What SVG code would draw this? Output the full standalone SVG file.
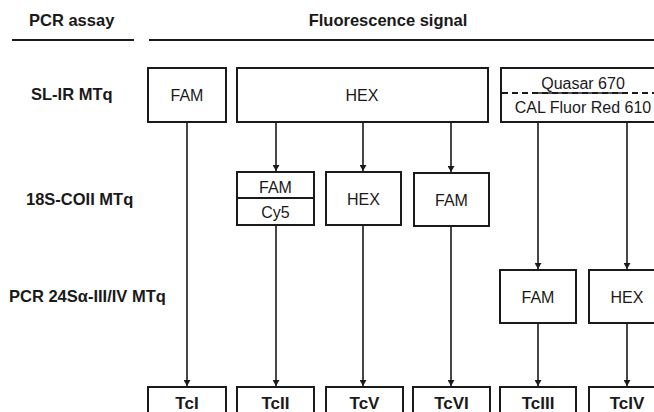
<svg xmlns="http://www.w3.org/2000/svg" width="654" height="412" viewBox="0 0 654 412">
<style>
.bx{fill:#fff;stroke:#1a1a1a;stroke-width:2}
.t{font-family:"Liberation Sans",Arial,sans-serif;font-size:16px;fill:#1a1a1a;text-anchor:middle}
.b{font-family:"Liberation Sans",Arial,sans-serif;font-size:16.5px;font-weight:bold;fill:#1a1a1a}
.tc{font-family:"Liberation Sans",Arial,sans-serif;font-size:17px;font-weight:bold;fill:#1a1a1a;text-anchor:middle}
.c{stroke:#1a1a1a;stroke-width:1.6;fill:none;marker-end:url(#ah)}
.rule{stroke:#1a1a1a;stroke-width:2}
</style>
<defs>
<marker id="ah" markerUnits="userSpaceOnUse" markerWidth="7" markerHeight="7" refX="6" refY="3.5" orient="auto">
<path d="M0,0 L6,3.5 L0,7 z" fill="#1a1a1a"/>
</marker>
</defs>
<g id="header">
<text class="b" x="29" y="26">PCR assay</text>
<text class="b" x="388" y="26" text-anchor="middle">Fluorescence signal</text>
<line class="rule" x1="12" y1="40" x2="134" y2="40"/>
<line class="rule" x1="149" y1="40" x2="654" y2="40"/>
</g>
<g id="row-labels">
<text class="b" x="31" y="100">SL-IR MTq</text>
<text class="b" x="26" y="205">18S-COII MTq</text>
<text class="b" x="9" y="302">PCR 24Sα-III/IV MTq</text>
</g>
<g id="connectors">
<line class="c" x1="187" y1="122" x2="187" y2="386"/>
<line class="c" x1="276" y1="122" x2="276" y2="171"/>
<line class="c" x1="276" y1="225" x2="276" y2="386"/>
<line class="c" x1="363" y1="122" x2="363" y2="171"/>
<line class="c" x1="363" y1="225" x2="363" y2="386"/>
<line class="c" x1="451" y1="122" x2="451" y2="172"/>
<line class="c" x1="451" y1="226" x2="451" y2="386"/>
<line class="c" x1="538" y1="122" x2="538" y2="269"/>
<line class="c" x1="538" y1="323" x2="538" y2="386"/>
<line class="c" x1="627" y1="122" x2="627" y2="269"/>
<line class="c" x1="627" y1="323" x2="627" y2="386"/>
</g>
<g id="sl-fam">
<rect class="bx" x="148" y="68" width="78" height="54"/>
<text class="t" x="187" y="101">FAM</text>
</g>
<g id="sl-hex">
<rect class="bx" x="237" y="68" width="251" height="54"/>
<text class="t" x="362" y="101">HEX</text>
</g>
<g id="sl-quasar">
<rect class="bx" x="501" y="68" width="170" height="54"/>
<line x1="502" y1="93" x2="654" y2="93" stroke="#1a1a1a" stroke-width="1.8" stroke-dasharray="6,4"/>
<line x1="538" y1="93" x2="627" y2="93" stroke="#1a1a1a" stroke-width="1.6"/>
<text class="t" x="583" y="89">Quasar 670</text>
<text class="t" x="583" y="113">CAL Fluor Red 610</text>
</g>
<g id="coii-famcy5">
<rect class="bx" x="237" y="172" width="77" height="53"/>
<line x1="237" y1="198" x2="314" y2="198" stroke="#1a1a1a" stroke-width="2"/>
<text class="t" x="275.5" y="193">FAM</text>
<text class="t" x="275.5" y="218">Cy5</text>
</g>
<g id="coii-hex">
<rect class="bx" x="326" y="172" width="75" height="53"/>
<text class="t" x="363.5" y="205">HEX</text>
</g>
<g id="coii-fam">
<rect class="bx" x="414" y="173" width="75" height="53"/>
<text class="t" x="451.5" y="206">FAM</text>
</g>
<g id="s24-fam">
<rect class="bx" x="500" y="270" width="76" height="53"/>
<text class="t" x="538" y="303">FAM</text>
</g>
<g id="s24-hex">
<rect class="bx" x="589" y="270" width="80" height="53"/>
<text class="t" x="627" y="303">HEX</text>
</g>
<g id="tci"><rect class="bx" x="148" y="387" width="78" height="40"/><text class="tc" x="187" y="409">TcI</text></g>
<g id="tcii"><rect class="bx" x="237" y="387" width="77" height="40"/><text class="tc" x="275.5" y="409">TcII</text></g>
<g id="tcv"><rect class="bx" x="326" y="387" width="77" height="40"/><text class="tc" x="364.5" y="409">TcV</text></g>
<g id="tcvi"><rect class="bx" x="413" y="387" width="77" height="40"/><text class="tc" x="451.5" y="409">TcVI</text></g>
<g id="tciii"><rect class="bx" x="500" y="387" width="76" height="40"/><text class="tc" x="538" y="409">TcIII</text></g>
<g id="tciv"><rect class="bx" x="589" y="387" width="80" height="40"/><text class="tc" x="627" y="409">TcIV</text></g>
</svg>
